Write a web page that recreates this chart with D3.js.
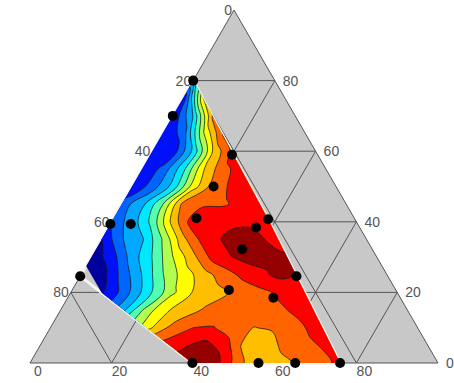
<!DOCTYPE html>
<html>
<head>
<meta charset="utf-8">
<script src="https://cdn.jsdelivr.net/npm/d3@7"></script>
<style>
  html, body { margin: 0; padding: 0; background: #fff; }
  svg { display: block; font-family: "Liberation Sans", Arial, sans-serif; }
</style>
</head>
<body>
<svg width="454" height="383"></svg>
<script>
// measured compositions (percent). a = right axis, c = bottom axis, b = left axis (rest)
const ptA = [80, 70, 59, 50, 41, 39.4, 39.4, 40.7, 38.4, 32.2, 24.6, 24.6, 20.7, 18.5, 0, 0, 0, 0];
const ptC = [0, 0, 20, 20, 20.3, 0, 5, 38, 36.2, 35.9, 53, 0, 38.4, 50.4, 39.8, 56, 65, 76];

// response level on a 5% lattice: rows a = 80 .. 0, columns c = 0 .. 80
// null = no estimate (left blank in the original)
const zRows = [
  [4.0, 9.0, 10, 10, 10, 10, 10, 10, 10, 10, 10, 10, 10, 10, 10, 10, 10],
  [1.1, 8.0, 9.8, 10, 10, 10, 10, 10, 10, 10, 10, 10, 10, 10, 10, 10, 10],
  [1.1, 4.05, 9.35, 10.2, 10.2, 10.2, 10.2, 10.2, 10.2, 10.2, 10.2, 10.2, 10.2, 10.2, 10.2, 10.2, 10.2],
  [1.1, 2.36, 6.9, 10.2, 10.5, 10.5, 10.5, 10.5, 10.5, 10.5, 10.5, 10.5, 10.5, 10.5, 10.5, 10.5, 10.5],
  [1.1, 1.4, 4.24, 8.2, 10.4, 10.5, 10.5, 10.5, 10.5, 10.5, 10.5, 10.5, 10.5, 10.5, 10.5, 10.5, 10.5],
  [1.1, 2.26, 4.64, 7.9, 9.8, 10.4, 10.4, 10.4, 10.4, 10.4, 10.4, 10.4, 10.4, 10.4, 10.4, 10.4, 10.4],
  [1.1, 2.49, 4.35, 7.5, 9.5, 10.25, 10.4, 10.4, 10.4, 10.4, 10.4, 10.4, 10.4, 10.4, 10.4, 10.4, 10.4],
  [2.5, 3.68, 5.93, 9.3, 9.85, 9.9, 10.3, 10.4, 10.4, 10.4, 10.4, 10.4, 10.4, 10.4, 10.4, 10.4, 10.4],
  [2.3, 3.45, 5.34, 8.4, 10.6, 10.7, 10.9, 10.75, 10.5, 10.5, 10.5, 10.5, 10.5, 10.5, 10.5, 10.5, 10.5],
  [1.0, 2.92, 3.87, 6.07, 8.71, 10.4, 11.1, 11.5, 11.0, 10.5, 10.5, 10.5, 10.5, 10.5, 10.5, 10.5, 10.5],
  [0.3, 1.5, 3.47, 5.04, 6.98, 8.72, 10.4, 11.05, 11.5, 11.3, 11.05, 10.5, 10.5, 10.5, 10.5, 10.5, 10.5],
  [null, 0.5, 2.32, 4.04, 5.93, 7.42, 8.55, 9.51, 10.3, 10.9, 11.3, 10.6, 10.5, 10.5, 10.5, 10.5, 10.5],
  [null, null, 1.44, 3.2, 5.06, 6.81, 8.08, 8.6, 9.15, 9.6, 10.07, 10.5, 10.5, 10.5, 10.5, 10.5, 10.5],
  [1, 1, 2.0, 3.6, 5.95, 7.8, 8.35, 9.1, 9.3, 9.4, 9.6, 9.95, 10.4, 10.4, 10.4, 10.4, 10.4],
  [2, 2, 3, 5, 6.5, 8.0, 9.4, 10.0, 10.05, 9.3, 8.97, 9.2, 9.7, 10.3, 10.4, 10.4, 10.4],
  [5, 6, 7, 8, 9, 9.8, 10.3, 10.85, 11.35, 10.6, 8.7, 8.3, 9.35, 9.75, 10.15, 10.4, 10.4],
  [8, 8, 9, 9.5, 10, 10.5, 11, 11.4, 11.5, 11.5, 9.8, 8.2, 8.5, 9.1, 9.6, 10.1, 10.4]
];
const gridStep = 5;

const bandColors = ["#00009c", "#0010f8", "#0064ff", "#00a8ff", "#00e8ff", "#50ffb0",
                    "#b0ff50", "#ffff00", "#ffbe00", "#ff6400", "#ff0000", "#950000"];

const gridTicks = [20, 40, 60, 80];
const leftLabels = [0, 20, 40, 60, 80];
const rightLabels = [80, 60, 40, 20, 0];
const bottomLabels = [0, 20, 40, 60, 80];

const xScale = d3.scaleLinear().domain([0, 100]).range([30, 438]);
const yScale = d3.scaleLinear().domain([0, 100]).range([363, 10]);

// ternary -> pixel
function proj(a, b, c) {
  return [xScale(c + a / 2), yScale(a)];
}

const svg = d3.select("svg");
const defs = svg.append("defs");

// triangle
const corners = [proj(100, 0, 0), proj(0, 100, 0), proj(0, 0, 100)];
svg.append("polygon")
  .attr("points", corners.join(" "))
  .attr("fill", "#c8c8c8");

const gridG = svg.append("g").attr("stroke", "#555").attr("stroke-width", 1).attr("fill", "none");
gridTicks.forEach(v => {
  gridG.append("line").datum([proj(v, 100 - v, 0), proj(v, 0, 100 - v)]);
  gridG.append("line").datum([proj(100 - v, v, 0), proj(0, v, 100 - v)]);
  gridG.append("line").datum([proj(100 - v, 0, v), proj(0, 100 - v, v)]);
});
gridG.selectAll("line")
  .attr("x1", d => d[0][0]).attr("y1", d => d[0][1])
  .attr("x2", d => d[1][0]).attr("y2", d => d[1][1]);

svg.append("polygon")
  .attr("points", corners.join(" "))
  .attr("fill", "none")
  .attr("stroke", "#555")
  .attr("stroke-width", 1);

// sample points and their hull
const ptXY = ptA.map((a, i) => proj(a, 100 - a - ptC[i], ptC[i]));
const hull = d3.polygonHull(ptXY);

// padded lattice, a ascending
const rowsUp = zRows.slice().reverse();
const nCol = rowsUp[0].length + 2;
const nRow = rowsUp.length + 2;
function padded(fn) {
  const out = new Array(nCol * nRow);
  for (let j = 0; j < nRow; j++) {
    for (let i = 0; i < nCol; i++) {
      const jj = Math.min(Math.max(j - 1, 0), rowsUp.length - 1);
      const ii = Math.min(Math.max(i - 1, 0), rowsUp[0].length - 1);
      out[j * nCol + i] = fn(rowsUp[jj][ii]);
    }
  }
  return out;
}
const zVals = padded(v => v == null ? 0.3 : v);
const maskVals = padded(v => v == null ? 0 : 1);

function toPx(p) {
  const c = (p[0] - 1.5) * gridStep;
  const a = (p[1] - 1.5) * gridStep;
  return proj(a, 100 - a - c, c);
}
function geomPath(geom, curve) {
  const line = d3.line().curve(curve);
  return geom.coordinates
    .map(poly => poly.map(ring => line(ring.slice(0, -1).map(toPx))).join(""))
    .join("");
}

defs.append("clipPath").attr("id", "hullClip")
  .append("polygon").attr("points", hull.join(" "));
const maskGeom = d3.contours().size([nCol, nRow]).thresholds([0.5])(maskVals)[0];
defs.append("clipPath").attr("id", "maskClip")
  .append("path").attr("d", geomPath(maskGeom, d3.curveLinearClosed));

// light rim round the filled area
svg.append("polygon")
  .attr("points", hull.join(" "))
  .attr("fill", "none")
  .attr("stroke", "#f4f4f4")
  .attr("stroke-width", 3)
  .attr("stroke-linejoin", "round");

const bands = d3.contours()
  .size([nCol, nRow])
  .thresholds(d3.range(1, bandColors.length))(zVals);

const fillG = svg.append("g").attr("clip-path", "url(#hullClip)")
  .append("g").attr("clip-path", "url(#maskClip)");

fillG.append("polygon")
  .attr("points", hull.join(" "))
  .attr("fill", bandColors[0]);

fillG.selectAll("path.band")
  .data(bands)
  .join("path")
  .attr("class", "band")
  .attr("d", d => geomPath(d, d3.curveCatmullRomClosed))
  .attr("fill-rule", "evenodd")
  .attr("fill", (d, i) => bandColors[i + 1])
  .attr("stroke", "#1c1c1c")
  .attr("stroke-width", 0.8);

// axis labels
const labelG = svg.append("g").attr("font-size", 14).attr("fill", "#555");
leftLabels.forEach(v => {
  const p = proj(100 - v, v, 0);
  labelG.append("text").attr("x", p[0] - 2).attr("y", p[1]).attr("dy", "0.36em")
    .attr("text-anchor", "end").text(v);
});
rightLabels.forEach(v => {
  const p = proj(v, 0, 100 - v);
  labelG.append("text").attr("x", p[0] + 8).attr("y", p[1]).attr("dy", "0.36em")
    .attr("text-anchor", "start").text(v);
});
bottomLabels.forEach(v => {
  const p = proj(0, 100 - v, v);
  labelG.append("text").attr("x", p[0] + 8).attr("y", p[1] + 8).attr("dy", "0.36em")
    .attr("text-anchor", "middle").text(v);
});

svg.append("g").selectAll("circle")
  .data(ptXY)
  .join("circle")
  .attr("cx", d => d[0])
  .attr("cy", d => d[1])
  .attr("r", 5)
  .attr("fill", "#000");
</script>
</body>
</html>
